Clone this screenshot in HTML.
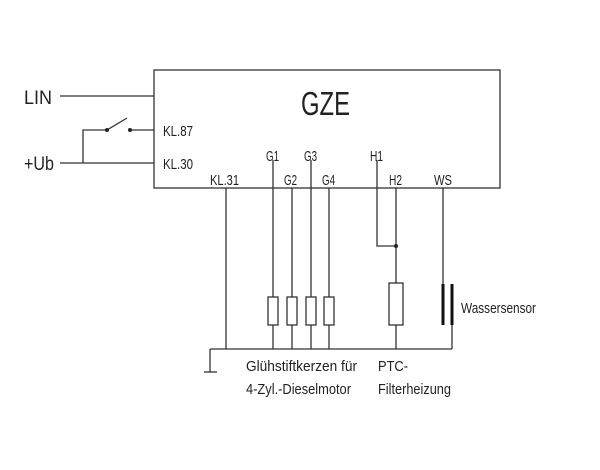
<!DOCTYPE html>
<html><head><meta charset="utf-8"><style>html,body{margin:0;padding:0;background:#fff}svg{display:block}</style></head>
<body>
<svg width="600" height="470" viewBox="0 0 600 470" xmlns="http://www.w3.org/2000/svg" font-family="Liberation Sans, sans-serif" fill="#222">
<g stroke="#333" stroke-width="1.3" fill="none">
<rect x="154" y="70" width="346" height="118"/>
<line x1="60" y1="96" x2="154" y2="96"/>
<line x1="60" y1="163" x2="154" y2="163"/>
<polyline points="83,163 83,130 107,130"/>
<line x1="107" y1="130" x2="127" y2="118"/>
<line x1="130" y1="130" x2="154" y2="130"/>
<line x1="226" y1="188" x2="226" y2="349"/>
<line x1="273" y1="160" x2="273" y2="349"/>
<line x1="292" y1="188" x2="292" y2="349"/>
<line x1="311" y1="160" x2="311" y2="349"/>
<line x1="329" y1="188" x2="329" y2="349"/>
<polyline points="377,160 377,246 396,246"/>
<line x1="396" y1="188" x2="396" y2="349"/>
<line x1="443" y1="188" x2="443" y2="284"/>
<line x1="452" y1="325" x2="452" y2="349"/>
<line x1="210" y1="349" x2="452" y2="349"/>
<line x1="210" y1="349" x2="210" y2="372"/>
<line x1="204" y1="372" x2="217" y2="372"/>
<rect x="268" y="297" width="10" height="28" fill="#fff"/>
<rect x="287" y="297" width="10" height="28" fill="#fff"/>
<rect x="306" y="297" width="10" height="28" fill="#fff"/>
<rect x="324" y="297" width="10" height="28" fill="#fff"/>
<rect x="389" y="283" width="14" height="42" fill="#fff"/>
</g>
<line x1="443" y1="284" x2="443" y2="325" stroke="#111" stroke-width="3"/>
<line x1="452" y1="284" x2="452" y2="325" stroke="#111" stroke-width="3"/>
<circle cx="107" cy="130" r="2"/><circle cx="130" cy="130" r="2"/><circle cx="396" cy="246" r="2"/>
<text x="24" y="104" font-size="19" textLength="28" lengthAdjust="spacingAndGlyphs">LIN</text>
<text x="24" y="170" font-size="19" textLength="30" lengthAdjust="spacingAndGlyphs">+Ub</text>
<text x="301" y="115" font-size="33" textLength="49" lengthAdjust="spacingAndGlyphs">GZE</text>
<g font-size="15">
<text x="163" y="136" textLength="30" lengthAdjust="spacingAndGlyphs">KL.87</text>
<text x="163" y="169" textLength="30" lengthAdjust="spacingAndGlyphs">KL.30</text>
<text x="210" y="185" textLength="29" lengthAdjust="spacingAndGlyphs">KL.31</text>
<text x="266" y="161" textLength="13" lengthAdjust="spacingAndGlyphs">G1</text>
<text x="284" y="185" textLength="13" lengthAdjust="spacingAndGlyphs">G2</text>
<text x="304" y="161" textLength="13" lengthAdjust="spacingAndGlyphs">G3</text>
<text x="322" y="185" textLength="13" lengthAdjust="spacingAndGlyphs">G4</text>
<text x="370" y="161" textLength="13" lengthAdjust="spacingAndGlyphs">H1</text>
<text x="389" y="185" textLength="13" lengthAdjust="spacingAndGlyphs">H2</text>
<text x="434" y="185" textLength="18" lengthAdjust="spacingAndGlyphs">WS</text>
<text x="461" y="313" textLength="75" lengthAdjust="spacingAndGlyphs">Wassersensor</text>
<text x="246" y="371" textLength="111" lengthAdjust="spacingAndGlyphs">Glühstiftkerzen für</text>
<text x="246" y="394" textLength="105" lengthAdjust="spacingAndGlyphs">4-Zyl.-Dieselmotor</text>
<text x="378" y="371" textLength="30" lengthAdjust="spacingAndGlyphs">PTC-</text>
<text x="378" y="394" textLength="73" lengthAdjust="spacingAndGlyphs">Filterheizung</text>
</g>
</svg>
</body></html>
